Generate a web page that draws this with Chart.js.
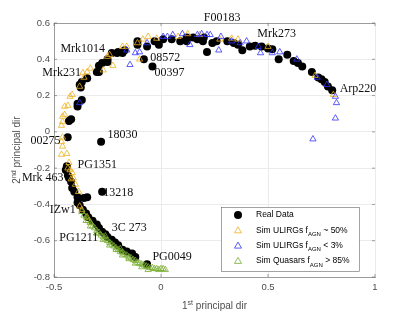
<!DOCTYPE html>
<html>
<head>
<meta charset="utf-8">
<script src="https://cdn.jsdelivr.net/npm/chart.js@4"></script>
<style>
  html, body { margin: 0; padding: 0; background: #fff; }
  #wrap { width: 415px; height: 312px; }
</style>
</head>
<body>
<div id="wrap"><canvas id="myChart" width="415" height="312"></canvas></div>
<script>
// axis ticks
const xTicks = [-0.5, 0, 0.5, 1];
const yTicks = [-0.8, -0.6, -0.4, -0.2, 0, 0.2, 0.4, 0.6];

// real data (black dots)
const realX = [-0.436, -0.28, -0.43, -0.42, -0.39, -0.39, -0.37, -0.38, -0.37, -0.345, -0.375, -0.30, -0.29, -0.275, -0.25,
    -0.23, -0.20, -0.18, -0.17, -0.08, -0.11, -0.11, -0.065, -0.04, -0.03, -0.01, 0.01, 0.05, 0.09, 0.12,
    0.12, 0.15, 0.17, 0.20, 0.196, 0.215, 0.24, 0.26, 0.31, 0.34, 0.36, 0.38, 0.415, 0.44, 0.47,
    0.50, 0.52, 0.55, 0.59, 0.62, 0.64, 0.66, 0.705, 0.735, 0.75, 0.765, 0.78, 0.80, -0.29, -0.25, -0.205,
    -0.44, -0.445, -0.435, -0.43, -0.42, -0.415, -0.405, -0.39, -0.345, -0.36, -0.275, -0.39, -0.38, -0.365, -0.35,
    -0.34, -0.32, -0.30, -0.29, -0.275, -0.26, -0.25, -0.23, -0.215, -0.20, -0.18, -0.16, -0.135, -0.12, -0.065];
const realY = [-0.03, -0.055, 0.06, 0.07, 0.14, 0.155, 0.175, 0.26, 0.275, 0.295, 0.245, 0.33, 0.365, 0.38, 0.385,
    0.435, 0.44, 0.435, 0.45, 0.40, 0.50, 0.48, 0.47, 0.36, 0.50, 0.48, 0.51, 0.51, 0.50, 0.52,
    0.50, 0.52, 0.51, 0.52, 0.50, 0.44, 0.49, 0.50, 0.50, 0.49, 0.48, 0.45, 0.47, 0.475, 0.47,
    0.46, 0.455, 0.40, 0.425, 0.39, 0.38, 0.36, 0.33, 0.30, 0.29, 0.275, 0.25, 0.23, 0.33, 0.40, 0.435,
    -0.19, -0.21, -0.24, -0.255, -0.275, -0.31, -0.33, -0.36, -0.36, -0.365, -0.33, -0.39, -0.405, -0.43, -0.45,
    -0.47, -0.49, -0.51, -0.53, -0.55, -0.565, -0.58, -0.595, -0.61, -0.625, -0.65, -0.66, -0.67, -0.69, -0.73];

// simulated ULIRGs fAGN ~ 50% (yellow)
const ulirg50X = [-0.465, -0.44, -0.46, -0.465, -0.46, -0.465, -0.46, -0.46, -0.45, -0.45, -0.435, -0.425, -0.415, -0.38,
    -0.365, -0.345, -0.27, -0.225, -0.25, -0.24, -0.18, -0.16, -0.11, -0.10, -0.085, -0.06, -0.02, 0.08, 0.125,
    0.18, 0.275, 0.33, 0.36, 0.50, 0.72, 0.805, -0.36, -0.33,
    -0.435, -0.425, -0.415, -0.41, -0.40, -0.385, -0.38, -0.37, -0.345, -0.33, -0.43, -0.42];
const ulirg50Y = [-0.125, -0.12, -0.08, -0.055, -0.03, 0.035, 0.055, 0.085, 0.095, 0.14, 0.145, 0.195, 0.205, 0.25,
    0.325, 0.33, 0.34, 0.365, 0.415, 0.425, 0.47, 0.47, 0.49, 0.40, 0.51, 0.525, 0.515, 0.525, 0.54,
    0.535, 0.51, 0.515, 0.51, 0.47, 0.31, 0.205, 0.30, 0.35,
    -0.20, -0.21, -0.225, -0.255, -0.29, -0.33, -0.41, -0.43, -0.47, -0.50, -0.17, -0.26];

// simulated ULIRGs fAGN < 3% (blue)
const ulirg3X = [-0.38, -0.16, -0.145, -0.12, -0.10, -0.065, 0.01, 0.03, 0.055, 0.10, 0.135, 0.17, 0.215, 0.19,
    0.23, 0.27, 0.28, 0.40, 0.455, 0.465, 0.52, 0.555, 0.635, 0.73, 0.775, 0.815, 0.82, 0.815, 0.71, 0.33, 0.37];
const ulirg3Y = [0.16, 0.45, 0.37, 0.435, 0.44, 0.49, 0.525, 0.525, 0.535, 0.54, 0.48, 0.535, 0.535, 0.54,
    0.535, 0.45, 0.525, 0.50, 0.47, 0.435, 0.435, 0.44, 0.40, 0.30, 0.26, 0.195, 0.16, 0.075, -0.04, 0.50, 0.49];

// simulated quasars fAGN > 85% (green)
const quasarX = [-0.37, -0.36, -0.35, -0.34, -0.33, -0.32, -0.31, -0.30, -0.29, -0.28, -0.27, -0.26, -0.25, -0.24,
    -0.23, -0.22, -0.21, -0.20, -0.19, -0.18, -0.17, -0.16, -0.15, -0.14, -0.13, -0.12, -0.11, -0.10, -0.09,
    -0.08, -0.07, -0.06, -0.05, -0.04, -0.03, -0.02, -0.01, 0.0, 0.01, 0.02,
    -0.33, -0.30, -0.27, -0.24, -0.21, -0.18, -0.15, -0.12, -0.09, -0.06, -0.35, -0.26, -0.19];
const quasarY = [-0.44, -0.46, -0.47, -0.49, -0.50, -0.52, -0.53, -0.545, -0.555, -0.57, -0.58, -0.59, -0.60, -0.61,
    -0.62, -0.63, -0.64, -0.65, -0.66, -0.665, -0.675, -0.68, -0.69, -0.695, -0.705, -0.71, -0.72, -0.725, -0.73,
    -0.735, -0.74, -0.745, -0.75, -0.75, -0.755, -0.755, -0.76, -0.755, -0.755, -0.76,
    -0.52, -0.56, -0.595, -0.625, -0.65, -0.68, -0.70, -0.725, -0.745, -0.76, -0.49, -0.575, -0.645];

// object names written next to the points
const labelNames = ['F00183', 'Mrk273', 'Mrk1014', '08572', '00397', 'Mrk231', 'Arp220', '00275', '18030',
    'PG1351', 'Mrk 463', '13218', 'IZw1', '3C 273', 'PG1211', 'PG0049'];
const labelX = [0.2, 0.45, -0.47, -0.05, -0.03, -0.555, 0.835, -0.61, -0.25, -0.39, -0.65, -0.27, -0.52, -0.23, -0.475, -0.04];
const labelY = [0.628, 0.54, 0.46, 0.41, 0.325, 0.325, 0.235, -0.05, -0.015, -0.18, -0.255, -0.335, -0.43, -0.53, -0.585, -0.69];

const legendItems = [
    { pre: 'Real Data', sub: '', post: '', color: '#000000', style: 'circle' },
    { pre: 'Sim ULIRGs f', sub: 'AGN', post: ' ~ 50%', color: '#EDB120', style: 'triangle' },
    { pre: 'Sim ULIRGs f', sub: 'AGN', post: ' < 3%', color: '#3333ff', style: 'triangle' },
    { pre: 'Sim Quasars f', sub: 'AGN', post: ' > 85%', color: '#77AC30', style: 'triangle' }
];

function toPoints(xs, ys) {
    return xs.map((x, i) => ({ x: x, y: ys[i] }));
}

const axisColor = '#666666';
const textColor = '#4d4d4d';

const decorPlugin = {
    id: 'decor',
    afterDraw(chart) {
        const ctx = chart.ctx;
        const area = chart.chartArea;
        const xs = chart.scales.x;
        const ys = chart.scales.y;
        ctx.save();

        // top border and inward ticks
        ctx.strokeStyle = axisColor;
        ctx.lineWidth = 0.6;
        ctx.beginPath();
        ctx.moveTo(area.left, area.top + 0.5);
        ctx.lineTo(area.right, area.top + 0.5);
        xTicks.forEach(v => {
            const px = xs.getPixelForValue(v);
            ctx.moveTo(px, area.bottom);
            ctx.lineTo(px, area.bottom - 3);
            ctx.moveTo(px, area.top);
            ctx.lineTo(px, area.top + 3);
        });
        yTicks.forEach(v => {
            const py = ys.getPixelForValue(v);
            ctx.moveTo(area.left, py);
            ctx.lineTo(area.left + 3, py);
            ctx.moveTo(area.right, py);
            ctx.lineTo(area.right - 3, py);
        });
        ctx.stroke();

        // object names
        ctx.fillStyle = '#111';
        ctx.font = '12px "Liberation Serif", serif';
        ctx.textBaseline = 'middle';
        ctx.textAlign = 'left';
        labelNames.forEach((name, i) => {
            ctx.fillText(name, xs.getPixelForValue(labelX[i]), ys.getPixelForValue(labelY[i]));
        });

        // axis titles with superscripts
        ctx.fillStyle = textColor;
        const mid = (area.left + area.right) / 2;
        ctx.font = '10px "Liberation Sans", Arial, sans-serif';
        const w1 = ctx.measureText('1').width;
        ctx.font = '7px "Liberation Sans", Arial, sans-serif';
        const wSt = ctx.measureText('st').width;
        ctx.font = '10px "Liberation Sans", Arial, sans-serif';
        const wRest = ctx.measureText(' principal dir').width;
        let tx = mid - (w1 + wSt + wRest) / 2;
        const ty = 305;
        ctx.textBaseline = 'alphabetic';
        ctx.fillText('1', tx, ty + 4);
        ctx.font = '7px "Liberation Sans", Arial, sans-serif';
        ctx.fillText('st', tx + w1, ty - 0.5);
        ctx.font = '10px "Liberation Sans", Arial, sans-serif';
        ctx.fillText(' principal dir', tx + w1 + wSt, ty + 4);

        ctx.save();
        ctx.translate(20, (area.top + area.bottom) / 2);
        ctx.rotate(-Math.PI / 2);
        const w2 = ctx.measureText('2').width;
        ctx.font = '7px "Liberation Sans", Arial, sans-serif';
        const wNd = ctx.measureText('nd').width;
        ctx.font = '10px "Liberation Sans", Arial, sans-serif';
        let sx = -(w2 + wNd + wRest) / 2;
        ctx.fillText('2', sx, 0);
        ctx.font = '7px "Liberation Sans", Arial, sans-serif';
        ctx.fillText('nd', sx + w2, -4.5);
        ctx.font = '10px "Liberation Sans", Arial, sans-serif';
        ctx.fillText(' principal dir', sx + w2 + wNd, 0);
        ctx.restore();

        // legend box
        const bx = 221, by = 207, bw = 138, bh = 64;
        ctx.fillStyle = '#fff';
        ctx.fillRect(bx, by, bw, bh);
        ctx.strokeStyle = axisColor;
        ctx.lineWidth = 0.6;
        ctx.strokeRect(bx + 0.5, by + 0.5, bw, bh);
        legendItems.forEach((item, i) => {
            const cy = 215 + i * 15.3;
            const mx = 238;
            if (item.style === 'circle') {
                ctx.fillStyle = item.color;
                ctx.beginPath();
                ctx.arc(mx, cy, 4, 0, Math.PI * 2);
                ctx.fill();
            } else {
                ctx.strokeStyle = item.color;
                ctx.lineWidth = 0.8;
                ctx.beginPath();
                ctx.moveTo(mx, cy - 3.5);
                ctx.lineTo(mx + 3.5, cy + 2.5);
                ctx.lineTo(mx - 3.5, cy + 2.5);
                ctx.closePath();
                ctx.stroke();
            }
            ctx.fillStyle = '#000';
            ctx.textBaseline = 'middle';
            ctx.font = '8.5px "Liberation Sans", Arial, sans-serif';
            let lx = 256;
            ctx.fillText(item.pre, lx, cy);
            lx += ctx.measureText(item.pre).width;
            if (item.sub) {
                ctx.font = '6px "Liberation Sans", Arial, sans-serif';
                ctx.fillText(item.sub, lx, cy + 4);
                lx += ctx.measureText(item.sub).width;
                ctx.font = '8.5px "Liberation Sans", Arial, sans-serif';
                ctx.fillText(item.post, lx, cy);
            }
        });

        ctx.restore();
    }
};

const ctx = document.getElementById('myChart').getContext('2d');

new Chart(ctx, {
    type: 'scatter',
    data: {
        datasets: [
            {
                label: 'Sim Quasars fAGN > 85%',
                data: toPoints(quasarX, quasarY),
                pointStyle: 'triangle',
                pointRadius: 3.6,
                backgroundColor: 'rgba(0,0,0,0)',
                borderColor: '#77AC30',
                borderWidth: 0.8,
                order: 1
            },
            {
                label: 'Sim ULIRGs fAGN < 3%',
                data: toPoints(ulirg3X, ulirg3Y),
                pointStyle: 'triangle',
                pointRadius: 3.6,
                backgroundColor: 'rgba(0,0,0,0)',
                borderColor: '#3333ff',
                borderWidth: 0.8,
                order: 2
            },
            {
                label: 'Sim ULIRGs fAGN ~ 50%',
                data: toPoints(ulirg50X, ulirg50Y),
                pointStyle: 'triangle',
                pointRadius: 3.6,
                backgroundColor: 'rgba(0,0,0,0)',
                borderColor: '#EDB120',
                borderWidth: 0.8,
                order: 3
            },
            {
                label: 'Real Data',
                data: toPoints(realX, realY),
                pointStyle: 'circle',
                pointRadius: 4,
                backgroundColor: '#000',
                borderColor: '#000',
                borderWidth: 0,
                order: 4
            }
        ]
    },
    options: {
        responsive: false,
        animation: false,
        layout: { padding: { top: 23, right: 40, left: 0, bottom: 0 } },
        plugins: {
            legend: { display: false },
            tooltip: { enabled: false }
        },
        scales: {
            x: {
                type: 'linear',
                min: -0.5,
                max: 1,
                afterFit: scale => { scale.height = 35; },
                afterBuildTicks: scale => { scale.ticks = xTicks.map(v => ({ value: v })); },
                ticks: {
                    padding: 5,
                    color: textColor,
                    font: { family: '"Liberation Sans", Arial, sans-serif', size: 9.5 },
                    callback: v => String(v)
                },
                grid: { color: '#ebebeb', drawTicks: false },
                border: { display: true, color: axisColor, width: 0.6 }
            },
            y: {
                type: 'linear',
                min: -0.8,
                max: 0.6,
                afterFit: scale => { scale.width = 54; },
                afterBuildTicks: scale => { scale.ticks = yTicks.map(v => ({ value: v })); },
                ticks: {
                    padding: 4,
                    color: textColor,
                    font: { family: '"Liberation Sans", Arial, sans-serif', size: 9.5 },
                    callback: v => String(Math.round(v * 10) / 10)
                },
                grid: { color: '#ebebeb', drawTicks: false },
                border: { display: true, color: axisColor, width: 0.6 }
            }
        }
    },
    plugins: [decorPlugin]
});
</script>
</body>
</html>
